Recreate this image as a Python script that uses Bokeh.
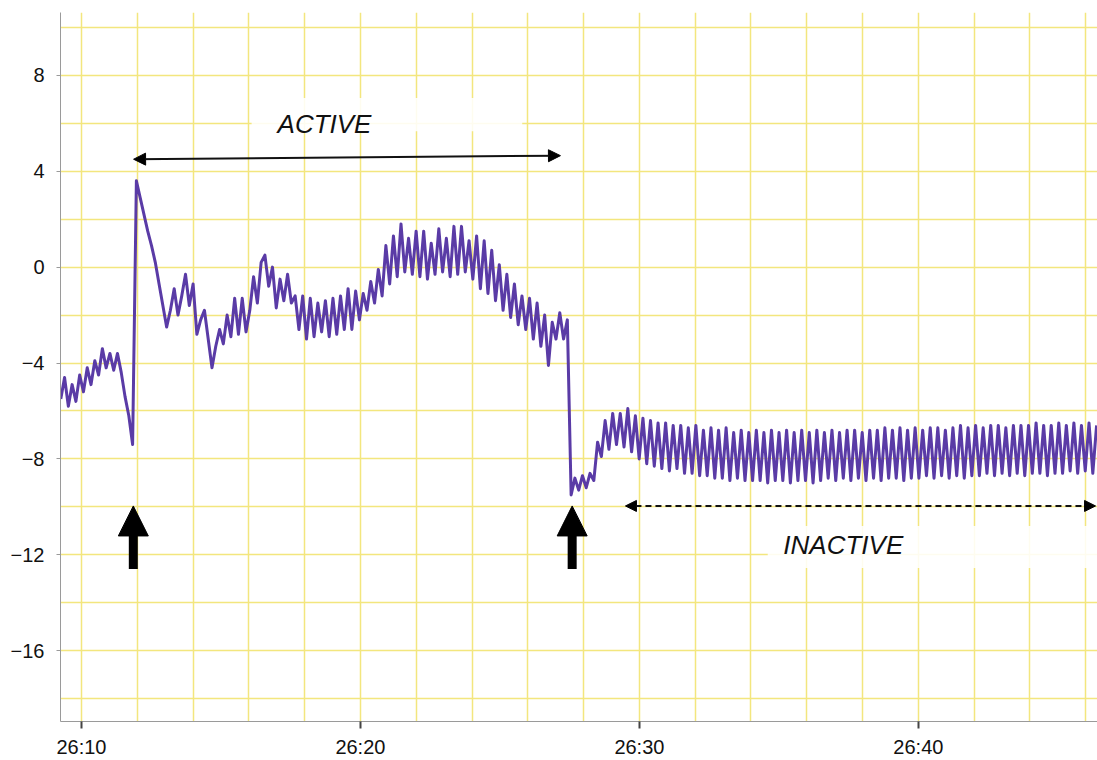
from bokeh.plotting import figure
from bokeh.models import FixedTicker, Arrow, NormalHead, Label, BoxAnnotation, Range1d
from bokeh.embed import file_html
from bokeh.resources import INLINE

# ---- data -------------------------------------------------------------
# recording sampled at a fixed interval; time in seconds after 26:00
t_start = 1569.26
t_step = 0.1355

pre_active = [-5.5, -4.6, -5.8, -4.9, -5.6, -4.5, -5.2, -4.2, -4.9, -3.9,
              -4.5, -3.4, -4.2, -3.6, -4.3, -3.6, -4.4, -5.4, -6.2, -7.4]

active = [3.6, 2.9, 2.2, 1.5, 0.9, 0.2, -0.7, -1.6, -2.5, -1.8,
          -0.9, -2.0, -1.2, -0.3, -1.6, -0.7, -2.8, -2.2, -1.8, -3.0,
          -4.2, -3.3, -2.6, -3.2, -2.0, -2.9, -1.3, -2.8, -1.3, -2.7,
          -1.8, -0.4, -1.5, 0.2, 0.5, -0.8, 0.0, -1.7, -0.5, -1.4,
          -0.3, -1.5, -1.2, -2.6, -1.2, -3.0, -1.3, -2.9, -1.5, -2.7,
          -1.4, -2.9, -1.3, -2.8, -1.2, -2.6, -0.9, -2.6, -1.0, -2.2,
          -1.1, -1.8, -0.6, -1.5, -0.1, -1.2, 0.9, -0.7, 1.3, -0.4,
          1.8, -0.2, 1.2, -0.3, 1.5, -0.4, 1.5, -0.5, 1.0, -0.3,
          1.6, -0.2, 1.2, -0.4, 1.7, -0.3, 1.7, -0.2, 1.1, -0.5,
          1.3, -0.9, 1.1, -1.1, 0.7, -1.4, 0.1, -1.8, -0.3, -2.1,
          -0.7, -2.4, -1.2, -2.6, -1.3, -3.0, -1.5, -3.3, -2.0, -4.1,
          -2.3, -3.0, -1.9, -3.0, -2.2]

inactive = [-9.5, -8.8, -9.3, -8.7, -9.2, -8.6, -8.9, -7.3, -7.9, -6.4,
            -7.6, -6.1, -7.4, -6.1, -7.5, -5.9, -7.7, -6.2, -8.0, -6.3,
            -8.2, -6.4, -8.3, -6.5, -8.4, -6.5, -8.5, -6.6, -8.4, -6.6,
            -8.6, -6.7, -8.6, -6.6, -8.7, -6.8, -8.7, -6.7, -8.8, -6.8,
            -8.8, -6.7, -8.9, -6.9, -8.8, -6.8, -8.9, -6.9, -8.9, -6.8,
            -8.9, -6.9, -9.0, -6.8, -8.9, -6.9, -8.9, -6.8, -9.0, -6.9,
            -8.9, -6.8, -8.9, -6.9, -9.0, -6.8, -8.9, -6.9, -8.8, -6.8,
            -8.9, -6.9, -8.8, -6.8, -8.9, -6.8, -8.8, -6.9, -8.9, -6.8,
            -8.8, -6.8, -8.9, -6.7, -8.8, -6.8, -8.8, -6.7, -8.9, -6.8,
            -8.8, -6.7, -8.8, -6.8, -8.7, -6.7, -8.8, -6.7, -8.7, -6.8,
            -8.8, -6.7, -8.7, -6.6, -8.8, -6.7, -8.7, -6.6, -8.7, -6.7,
            -8.6, -6.6, -8.7, -6.6, -8.6, -6.7, -8.7, -6.6, -8.6, -6.6,
            -8.7, -6.6, -8.6, -6.5, -8.6, -6.6, -8.7, -6.6, -8.6, -6.5,
            -8.6, -6.6, -8.5, -6.5, -8.6, -6.6, -8.5, -6.5, -8.6, -6.6]

x_tick_values = [1570, 1580, 1590, 1600]
x_tick_labels = ["26:10", "26:20", "26:30", "26:40"]
y_tick_values = [-16, -12, -8, -4, 0, 4, 8]
y_tick_labels = ["\u221216", "\u221212", "\u22128", "\u22124", "0", "4", "8"]

# annotation anchors (data units)
event_times = [1571.86, 1587.59]
active_span = (1571.87, 4.50, 1587.17, 4.65)
inactive_span = (1589.50, -9.96, 1606.35, -9.96)

# ---- figure -----------------------------------------------------------
signal = pre_active + active + inactive
t = [t_start + i * t_step for i in range(len(signal))]

p = figure(width=1097, height=760, output_backend="svg", toolbar_location=None,
           x_range=Range1d(1569.25, 1606.42), y_range=Range1d(-18.95, 10.62),
           min_border_left=60, min_border_right=0, min_border_top=12,
           min_border_bottom=37)
p.outline_line_color = None
p.background_fill_color = "white"

grid_color = "#f3e67e"
p.xgrid.ticker = FixedTicker(ticks=list(range(1570, 1607, 2)))
p.ygrid.ticker = FixedTicker(ticks=list(range(-18, 11, 2)))
for g in (p.xgrid, p.ygrid):
    g.grid_line_color = grid_color
    g.grid_line_width = 1.5

p.xaxis.ticker = FixedTicker(ticks=x_tick_values)
p.xaxis.major_label_overrides = dict(zip(x_tick_values, x_tick_labels))
p.yaxis.ticker = FixedTicker(ticks=y_tick_values)
p.yaxis.major_label_overrides = dict(zip(y_tick_values, y_tick_labels))

for ax in (p.xaxis, p.yaxis):
    ax.axis_line_color = "#9a9a9a"
    ax.axis_line_width = 1
    ax.minor_tick_line_color = None
    ax.major_tick_in = 0
    ax.major_label_text_font = "Liberation Sans"
    ax.major_label_text_font_size = "20px"
    ax.major_label_text_color = "#111111"

p.xaxis.major_tick_line_color = "#444444"
p.xaxis.major_tick_line_width = 2
p.xaxis.major_tick_out = 7
p.xaxis.major_label_standoff = 7
p.yaxis.major_tick_line_color = "#9a9a9a"
p.yaxis.major_tick_out = 4
p.yaxis.major_label_standoff = 12

# white label backgrounds
p.add_layout(BoxAnnotation(left=1576.1, right=1585.8, bottom=5.67, top=7.05,
                           fill_color="white", fill_alpha=0.88, line_color=None))
p.add_layout(BoxAnnotation(left=1594.6, right=1606.42, bottom=-12.55, top=-10.8,
                           fill_color="white", fill_alpha=0.88, line_color=None))

# trace
p.line(t, signal, line_color="#5a3ba6", line_width=3, line_join="round")

# ACTIVE double arrow
x0, y0, x1, y1 = active_span
p.add_layout(Arrow(start=NormalHead(size=12, fill_color="black", line_color="black"),
                   end=NormalHead(size=12, fill_color="black", line_color="black"),
                   x_start=x0, y_start=y0, x_end=x1, y_end=y1,
                   line_color="#111111", line_width=2))

# INACTIVE dashed arrow
x0, y0, x1, y1 = inactive_span
p.add_layout(Arrow(start=NormalHead(size=11, fill_color="black", line_color="black"),
                   end=NormalHead(size=11, fill_color="black", line_color="black"),
                   x_start=x0, y_start=y0, x_end=x1, y_end=y1,
                   line_color="#111111", line_width=2, line_dash="6 4"))

# event arrows
for xe in event_times:
    p.add_layout(Arrow(end=NormalHead(size=30, fill_color="black", line_color="black"),
                       x_start=xe, y_start=-12.59, x_end=xe, y_end=-9.96,
                       line_color="black", line_width=9))

p.add_layout(Label(x=1577.03, y=5.96, text="ACTIVE", text_font="Liberation Sans",
                   text_font_style="italic", text_font_size="26px",
                   text_baseline="middle", text_color="#111111"))
p.add_layout(Label(x=1595.16, y=-11.59, text="INACTIVE", text_font="Liberation Sans",
                   text_font_style="italic", text_font_size="26px",
                   text_baseline="middle", text_color="#111111"))

open("out.html", "w").write(file_html(p, INLINE))
